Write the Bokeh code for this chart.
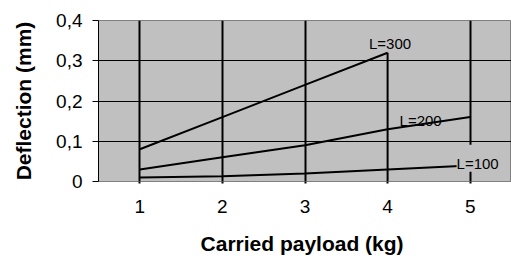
from bokeh.plotting import figure
from bokeh.models import FixedTicker, Label
from bokeh.embed import file_html
from bokeh.resources import INLINE

# Data
payload = [1, 2, 3, 4, 5]
l300_x = [1, 2, 3, 4]
l300_y = [0.08, 0.16, 0.24, 0.32]
l200_y = [0.03, 0.06, 0.09, 0.13, 0.16]
l100_y = [0.01, 0.013, 0.02, 0.03, 0.04]
y_ticks = [0, 0.1, 0.2, 0.3, 0.4]
y_tick_labels = ["0", "0,1", "0,2", "0,3", "0,4"]
x_ticks = [1, 2, 3, 4, 5]
series_names = ["L=300", "L=200", "L=100"]

FONT = "Liberation Sans"
GRAY = "#c0c0c0"

p = figure(width=511, height=264, x_range=(0.5, 5.5), y_range=(0, 0.4),
           output_backend="svg", toolbar_location=None,
           min_border_left=98, min_border_right=0, min_border_top=20, min_border_bottom=83,
           background_fill_color=GRAY, border_fill_color="white",
           outline_line_color="#808080", outline_line_width=1)

# Grids
p.ygrid.ticker = FixedTicker(ticks=y_ticks[1:])
p.ygrid.grid_line_color = "black"
p.ygrid.grid_line_width = 1
p.xgrid.ticker = FixedTicker(ticks=[1, 2, 3, 5])
p.xgrid.grid_line_color = "black"
p.xgrid.grid_line_width = 2

# Y axis
ya = p.yaxis[0]
ya.ticker = FixedTicker(ticks=y_ticks)
ya.major_label_overrides = {t: s for t, s in zip(y_ticks, y_tick_labels)}
ya.axis_line_color = "black"
ya.major_tick_line_color = "black"
ya.major_tick_in = 0
ya.major_tick_out = 6
ya.minor_tick_line_color = None
ya.major_label_standoff = 10
ya.major_label_text_font = FONT
ya.major_label_text_font_size = "19px"
ya.major_label_text_color = "black"
ya.axis_label = "Deflection (mm)"
ya.axis_label_text_font = FONT
ya.axis_label_text_font_size = "21px"
ya.axis_label_text_font_style = "bold"
ya.axis_label_text_color = "black"
ya.axis_label_standoff = 18

# X axis
xa = p.xaxis[0]
xa.ticker = FixedTicker(ticks=x_ticks)
xa.axis_line_color = "#808080"
xa.major_tick_line_color = "black"
xa.major_tick_line_width = 2
xa.major_tick_in = 0
xa.major_tick_out = 2
xa.minor_tick_line_color = None
xa.major_label_standoff = 16
xa.major_label_text_font = FONT
xa.major_label_text_font_size = "19px"
xa.major_label_text_color = "black"
xa.axis_label = "Carried payload  (kg)"
xa.axis_label_text_font = FONT
xa.axis_label_text_font_size = "21px"
xa.axis_label_text_font_style = "bold"
xa.axis_label_text_color = "black"
xa.axis_label_standoff = 16

# Drop line at x=4 up to the L=300 end
p.segment(x0=[l300_x[-1]], y0=[0], x1=[l300_x[-1]], y1=[l300_y[-1]],
          line_color="black", line_width=2)

# Series
p.line(l300_x, l300_y, line_color="black", line_width=2)
p.line(payload, l200_y, line_color="black", line_width=2)
p.line(payload, l100_y, line_color="black", line_width=2)

# Labels
lab_kw = dict(text_font=FONT, text_font_size="15px", text_color="black",
              text_align="center", text_baseline="alphabetic")
p.add_layout(Label(x=4.03, y=0.3425, text=series_names[0], **lab_kw))
p.add_layout(Label(x=4.40, y=0.1525, text=series_names[1], **lab_kw))
p.add_layout(Label(x=5.09, y=0.0575, text=series_names[2],
                   background_fill_color=GRAY, padding=dict(top=10, bottom=0, left=0, right=0),
                   **lab_kw))

open("out.html", "w").write(file_html(p, INLINE))
